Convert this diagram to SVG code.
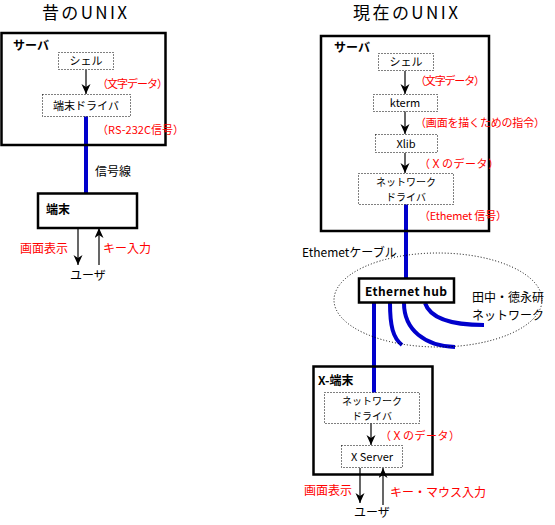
<svg xmlns="http://www.w3.org/2000/svg" width="555" height="525" viewBox="0 0 555 525">
<style>
text{font-family:"Noto Sans CJK JP","Noto Sans",sans-serif;font-size:11px;fill:#000}
.t{font-size:17px}
.b{font-weight:bold;font-size:12px}
.r{fill:#ff0000}
.c{text-anchor:middle}
.s{font-size:10px}
.box{fill:#fff;stroke:#000;stroke-width:2.5}
.dot{fill:#fff;stroke:#000;stroke-width:1;stroke-dasharray:1,2}
.arr{stroke:#000;stroke-width:1.2;fill:none;marker-end:url(#ah)}
.blue{stroke:#0000cc;stroke-width:4;fill:none}
</style>
<defs>
<marker id="ah" markerUnits="userSpaceOnUse" markerWidth="12" markerHeight="10" refX="10" refY="4.5" orient="auto" viewBox="0 0 12 10">
<path d="M0,0 L10,4.5 L0,9 L3,4.5 Z" fill="#000"/>
</marker>
</defs>
<text class="t" x="42" y="19" textLength="85">昔のUNIX</text>
<text class="t" x="353" y="19" textLength="105">現在のUNIX</text>
<g id="connectors">
<line class="blue" x1="86" y1="116" x2="86" y2="194"/>
<line class="blue" x1="406" y1="204" x2="406" y2="279"/>
<line class="blue" x1="374" y1="302" x2="374" y2="393"/>
<path class="blue" d="M390,303 C390,326 393,338 402,345"/>
<path class="blue" d="M404,303 C404,330 425,346 455,347"/>
<path class="blue" d="M425,303 C430,318 450,325 484,325"/>
<line class="arr" x1="86" y1="70" x2="86" y2="94"/>
<line class="arr" x1="78" y1="228" x2="78" y2="265"/>
<line class="arr" x1="99" y1="265" x2="99" y2="228"/>
<line class="arr" x1="405" y1="71" x2="405" y2="94"/>
<line class="arr" x1="405" y1="111" x2="405" y2="134"/>
<line class="arr" x1="405" y1="153" x2="405" y2="173"/>
<line class="arr" x1="371" y1="423" x2="371" y2="445"/>
<line class="arr" x1="360" y1="468" x2="360" y2="503"/>
<line class="arr" x1="383" y1="505" x2="383" y2="468"/>
</g>
<g id="server-old">
<rect class="box" x="1.5" y="33" width="164" height="112" style="fill:none"/>
<text class="b" x="13" y="50">サーバ</text>
</g>
<g id="shell-old">
<rect class="dot" x="58.5" y="52.5" width="55" height="17"/>
<text class="c" x="86" y="65">シェル</text>
</g>
<g id="driver-old">
<rect class="dot" x="42.5" y="94.5" width="88" height="22"/>
<text class="c" x="86" y="110">端末ドライバ</text>
</g>
<g id="terminal-old">
<rect class="box" x="38" y="193.5" width="99" height="34.5"/>
<text class="b" x="46" y="214">端末</text>
</g>
<text class="r" x="97" y="88" textLength="71">（文字データ）</text>
<text class="r" x="97" y="134" textLength="87">（RS-232C信号）</text>
<text x="95" y="176" style="font-size:12px">信号線</text>
<text class="r" x="20" y="253" style="font-size:12px">画面表示</text>
<text class="r" x="103" y="253" style="font-size:12px">キー入力</text>
<text x="70" y="280" style="font-size:12px">ユーザ</text>

<g id="server-new">
<rect class="box" x="321" y="36" width="168" height="195" style="fill:none"/>
<text class="b" x="334" y="52">サーバ</text>
</g>
<g id="shell-new">
<rect class="dot" x="378.5" y="53.5" width="55" height="17"/>
<text class="c" x="406" y="66">シェル</text>
</g>
<g id="kterm">
<rect class="dot" x="373.5" y="94.5" width="64" height="17"/>
<text class="c" x="405" y="107">kterm</text>
</g>
<g id="xlib">
<rect class="dot" x="375.5" y="134.5" width="62" height="18"/>
<text class="c" x="406" y="148">Xlib</text>
</g>
<g id="netdriver-server">
<rect class="dot" x="358.5" y="173.5" width="95" height="31"/>
<text class="c s" x="406" y="186">ネットワーク</text>
<text class="c s" x="406" y="201">ドライバ</text>
</g>
<text class="r" x="415" y="85" textLength="70">（文字データ）</text>
<text class="r" x="415" y="127" textLength="130">（画面を描くための指令）</text>
<text class="r" x="419" y="168" textLength="80">（Ｘのデータ）</text>
<text class="r" x="419" y="220" textLength="88">（Ethemet 信号）</text>
<text x="302" y="257" style="font-size:12px">Ethemetケーブル</text>
<g id="network">
<ellipse cx="438" cy="300" rx="104" ry="47" fill="none" stroke="#000" stroke-width="1" stroke-dasharray="1,2"/>
<text x="472" y="302" style="font-size:12px">田中・徳永研</text>
<text x="472" y="320" style="font-size:12px">ネットワーク</text>
</g>
<g id="hub">
<rect class="box" x="359" y="278.5" width="95" height="24"/>
<text class="b c" x="406" y="296" textLength="82">Ethernet hub</text>
</g>
<g id="xterminal">
<rect class="box" x="313.5" y="366.5" width="119" height="108" style="fill:none"/>
<text class="b" x="318" y="385">X-端末</text>
</g>
<g id="netdriver-x">
<rect class="dot" x="324.5" y="392.5" width="95" height="31"/>
<text class="c s" x="372" y="405">ネットワーク</text>
<text class="c s" x="372" y="420">ドライバ</text>
</g>
<g id="xserver">
<rect class="dot" x="341.5" y="445.5" width="61" height="22"/>
<text class="c" x="372" y="461">X Server</text>
</g>
<text class="r" x="380" y="440" textLength="80">（Ｘのデータ）</text>
<text class="r" x="304" y="495" style="font-size:12px">画面表示</text>
<text class="r" x="390" y="497" style="font-size:12px">キー・マウス入力</text>
<text x="354" y="517" style="font-size:12px">ユーザ</text>
</svg>
